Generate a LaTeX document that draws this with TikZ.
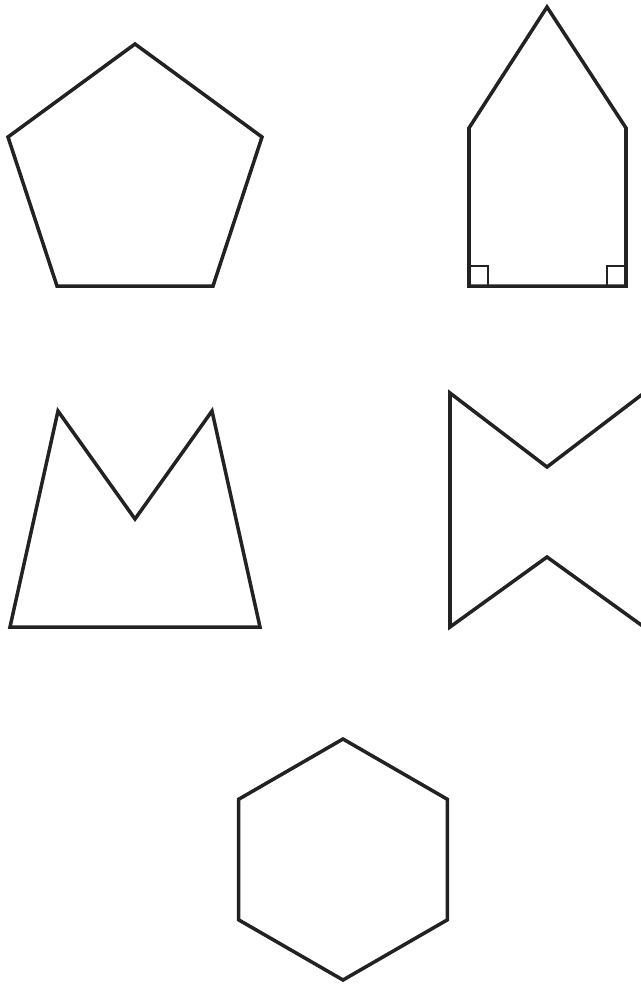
\documentclass[tikz,border=0pt]{standalone}
\usepackage{tikz}
\definecolor{shapegray}{RGB}{34,34,34}
\tikzset{
    outline/.style={draw=shapegray, line width=2pt, line join=miter},
    rmark/.style={draw=shapegray, line width=1pt},
}
\begin{document}
\begin{tikzpicture}[x=0.02cm, y=-0.02cm]
    \useasboundingbox (0,0) rectangle (641,985);
    \clip (0,0) rectangle (641,985);
    % regular pentagon
    \draw[outline] (135,44) -- (262,137) -- (213,286) -- (57,286) -- (8,137) -- cycle;
    % house with two right angles
    \draw[outline] (547,7) -- (626,128) -- (626,286) -- (469,286) -- (469,128) -- cycle;
    \draw[rmark] (469,266) -- (488,266) -- (488,286);
    \draw[rmark] (626,266) -- (607,266) -- (607,286);
    % concave "M"
    \draw[outline] (10,627) -- (58,411) -- (135,519) -- (212,411) -- (260,627) -- cycle;
    % bow tie, cut at the right edge
    \draw[outline] (450,393) -- (547,467) -- (644,393) -- (644,627) -- (547,557) -- (450,627) -- cycle;
    % regular hexagon
    \draw[outline] (343,739) -- (447.4,799.3) -- (447.4,919.8) -- (343,980)
        -- (238.6,919.8) -- (238.6,799.3) -- cycle;
\end{tikzpicture}
\end{document}
